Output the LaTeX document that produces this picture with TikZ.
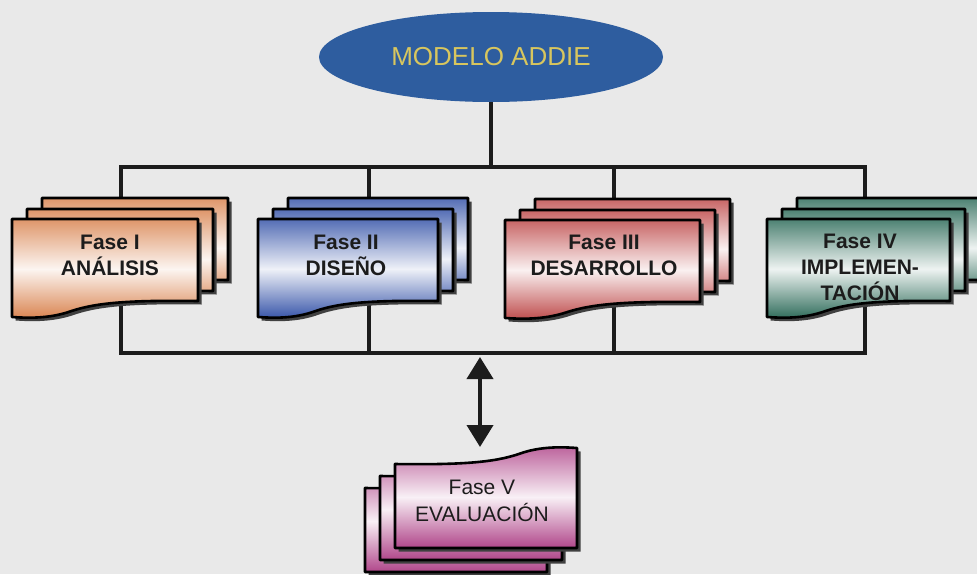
\documentclass[tikz,border=0pt]{standalone}
\usepackage{fontspec}
\setmainfont{Liberation Sans}
\usetikzlibrary{shapes.geometric,arrows.meta}

\definecolor{pagebg}{HTML}{E9E9E9}
\definecolor{ovalblue}{HTML}{2E5D9F}
\definecolor{titleyellow}{HTML}{D8C65E}
\definecolor{inkc}{HTML}{1C1C1C}
\definecolor{orangec}{HTML}{D9834F}
\definecolor{bluec}{HTML}{3553A8}
\definecolor{redc}{HTML}{BE4B4B}
\definecolor{greenc}{HTML}{2D6B59}
\definecolor{magc}{HTML}{B0468A}

% document sheet with a wavy bottom edge; #1,#2 = top-left corner, #3 = width, #4 = height
\newcommand\docpath[4]{(#1,#2) -- ({#1+#3},#2) -- ({#1+#3},{#2+#4-16})
  .. controls ({#1+0.62*#3},{#2+#4-17}) and ({#1+0.45*#3},{#2+#4-14}) .. ({#1+0.32*#3},{#2+#4-6})
  .. controls ({#1+0.2*#3},{#2+#4+2}) and ({#1+0.08*#3},{#2+#4+1}) .. (#1,{#2+#4}) -- cycle}
% the same sheet turned upside down; #1,#2 = bottom-right corner
\newcommand\invdocpath[4]{(#1,#2) -- ({#1-#3},#2) -- ({#1-#3},{#2-#4+16})
  .. controls ({#1-0.62*#3},{#2-#4+17}) and ({#1-0.45*#3},{#2-#4+14}) .. ({#1-0.32*#3},{#2-#4+6})
  .. controls ({#1-0.2*#3},{#2-#4-2}) and ({#1-0.08*#3},{#2-#4-1}) .. (#1,{#2-#4}) -- cycle}
% one sheet: drop shadow, gradient fill, black outline
\newcommand\sheet[2]{%
  \fill[black!75, shift={(3.5,3.5)}] #1;
  \shadedraw[sheetline, top color=#2!85!white, bottom color=#2, middle color=#2!8!white] #1;}
% a stack of three sheets, back ones shifted up and to the right
\newcommand\docstack[5]{%
  \sheet{\docpath{#1+30}{#2-21}{#3}{#4}}{#5}
  \sheet{\docpath{#1+15}{#2-10}{#3}{#4}}{#5}
  \sheet{\docpath{#1}{#2}{#3}{#4}}{#5}}

\tikzset{
  frame/.style={draw=inkc, line width=3.6},
  sheetline/.style={draw=black, line width=2.6, line join=round},
  phase/.style={font=\bfseries\fontsize{21}{26}\selectfont, text=inkc, align=center, inner sep=0},
  phaseplain/.style={font=\fontsize{21}{27}\selectfont, text=inkc, align=center, inner sep=0},
  title/.style={ellipse, fill=ovalblue, minimum width=344, minimum height=90, inner sep=0,
    text=titleyellow, font=\fontsize{26}{28}\selectfont},
  twoway/.style={draw=inkc, line width=4, {Triangle[width=26pt,length=22pt]}-{Triangle[width=26pt,length=22pt]}}
}

\begin{document}
\begin{tikzpicture}[x=1pt, y=-1pt]
\useasboundingbox (0,0) rectangle (977,574);
\fill[pagebg] (0,0) rectangle (977,574);

% frame joining the four phases
\coordinate (tl) at (121,167);
\coordinate (br) at (865,353);
\coordinate (t2) at (369,167);
\coordinate (b2) at (369,353);
\coordinate (t3) at (614,167);
\coordinate (b3) at (614,353);
\draw[frame] (tl) rectangle (br);
\draw[frame] (t2) -- (b2);
\draw[frame] (t3) -- (b3);

\node[title] (model) at (491,57) {MODELO ADDIE};
\draw[frame] (model.south) -- (model.south |- tl);

% phase stacks
\docstack{12}{219}{186}{98}{orangec}
\docstack{258}{219}{180}{98}{bluec}
\docstack{505}{220}{195}{98}{redc}
\docstack{767}{219}{183}{98}{greenc}

% evaluation stack, turned over, back sheets down and to the left
\sheet{\invdocpath{547}{572}{182}{100}}{magc}
\sheet{\invdocpath{562}{560}{182}{100}}{magc}
\sheet{\invdocpath{577}{548}{182}{100}}{magc}

\node[phase] (f1) at (110,255) {Fase I\\ANÁLISIS};
\node[phase] (f2) at (346,255) {Fase II\\DISEÑO};
\node[phase] (f3) at (604,255) {Fase III\\DESARROLLO};
\node[phase] (f4) at (860,267) {Fase IV\\IMPLEMEN-\\TACIÓN};
\node[phaseplain] (f5) at (482,501) {Fase V\\EVALUACIÓN};

\coordinate (evbar) at (480,357);
\coordinate (evtop) at (480,447);
\draw[twoway] (evbar) -- (evtop);
\end{tikzpicture}
\end{document}
